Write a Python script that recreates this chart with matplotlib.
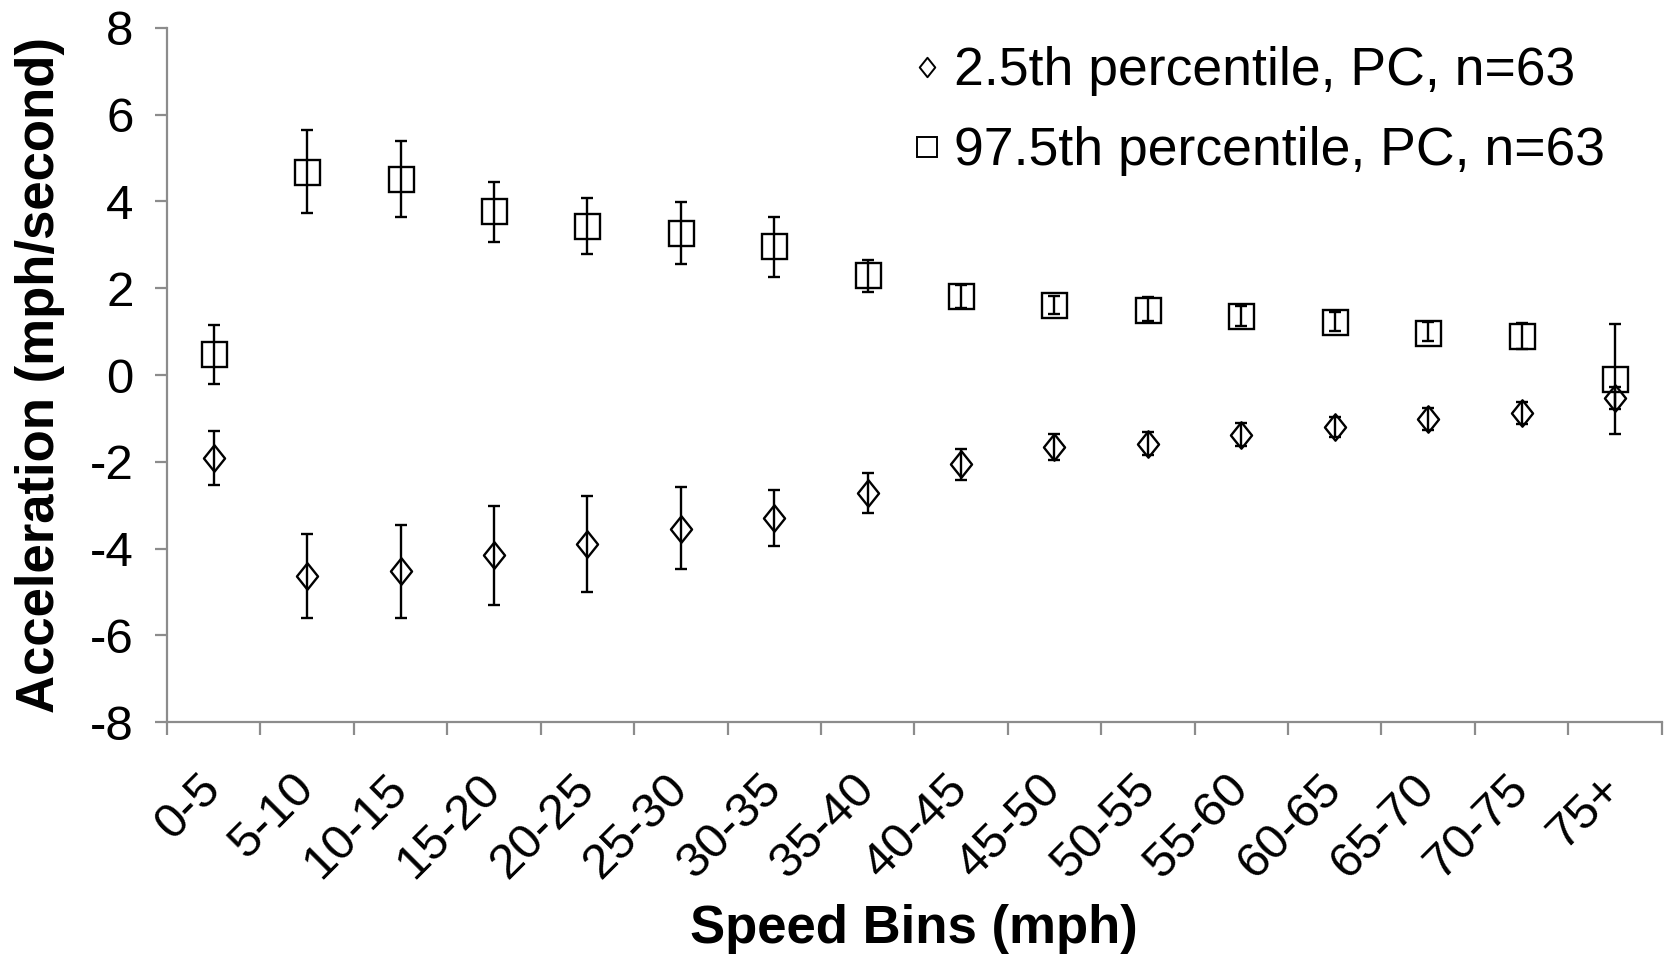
import numpy as np
import matplotlib.pyplot as plt
from matplotlib.path import Path
from matplotlib.lines import Line2D

plt.rcParams['font.family'] = ['Liberation Sans', 'DejaVu Sans']
plt.rcParams['axes.unicode_minus'] = False

bins = ['0-5', '5-10', '10-15', '15-20', '20-25', '25-30', '30-35', '35-40',
        '40-45', '45-50', '50-55', '55-60', '60-65', '65-70', '70-75', '75+']

# 2.5th percentile: mean and error bar ends
p025 = [-1.92, -4.63, -4.52, -4.16, -3.89, -3.54, -3.29, -2.72,
        -2.05, -1.65, -1.58, -1.38, -1.21, -1.01, -0.88, -0.53]
p025_hi = [-1.30, -3.67, -3.45, -3.01, -2.78, -2.59, -2.65, -2.26,
           -1.70, -1.37, -1.32, -1.11, -0.97, -0.76, -0.62, -0.27]
p025_lo = [-2.53, -5.61, -5.59, -5.31, -5.00, -4.47, -3.94, -3.19,
           -2.41, -1.96, -1.85, -1.64, -1.44, -1.27, -1.13, -0.79]

# 97.5th percentile
p975 = [0.48, 4.69, 4.52, 3.77, 3.44, 3.27, 2.97, 2.30,
        1.81, 1.61, 1.51, 1.36, 1.23, 0.97, 0.90, -0.09]
p975_hi = [1.16, 5.65, 5.40, 4.46, 4.07, 3.98, 3.64, 2.65,
           2.07, 1.83, 1.80, 1.59, 1.45, 1.23, 1.19, 1.18]
p975_lo = [-0.21, 3.73, 3.65, 3.07, 2.80, 2.56, 2.27, 1.92,
           1.55, 1.40, 1.24, 1.14, 1.01, 0.79, 0.61, -1.35]

x = np.arange(len(bins))

fig = plt.figure(figsize=(16.65, 9.58), dpi=100)
ax = fig.add_axes([0.1003, 0.2463, 0.8977, 0.7245])

# diamond a bit wider than matplotlib's 'd'
diamond = Path([(0, 1), (0.8, 0), (0, -1), (-0.8, 0), (0, 1)],
               [Path.MOVETO, Path.LINETO, Path.LINETO, Path.LINETO, Path.CLOSEPOLY])

y1 = np.array(p025)
ax.errorbar(x, y1, yerr=[y1 - np.array(p025_lo), np.array(p025_hi) - y1],
            fmt='none', ecolor='black', elinewidth=1.7, capsize=4.5, capthick=1.7)
ax.plot(x, y1, linestyle='none', marker=diamond, markersize=19,
        markerfacecolor='none', markeredgecolor='black', markeredgewidth=1.7)

y2 = np.array(p975)
ax.errorbar(x, y2, yerr=[y2 - np.array(p975_lo), np.array(p975_hi) - y2],
            fmt='none', ecolor='black', elinewidth=1.7, capsize=4.5, capthick=1.7)
ax.plot(x, y2, linestyle='none', marker='s', markersize=18,
        markerfacecolor='none', markeredgecolor='black', markeredgewidth=1.7)

ax.set_xlim(-0.5, len(bins) - 0.5)
ax.set_ylim(-8, 8)
ax.set_yticks(np.arange(-8, 9, 2))

# ticks at bin boundaries, labels at centres
ax.set_xticks(np.arange(-0.5, len(bins), 1))
ax.set_xticklabels([])
ax.set_xticks(x, minor=True)
ax.set_xticklabels(bins, minor=True, rotation=45, ha='right', va='center',
                   rotation_mode='anchor', fontsize=35.5)
ax.tick_params(axis='x', which='minor', length=0, pad=43)
ax.tick_params(axis='x', which='major', length=9, width=1.6, color='#8c8c8c')
ax.tick_params(axis='y', length=9, width=1.6, color='#8c8c8c', labelsize=35.5, pad=15)

for s in ['top', 'right']:
    ax.spines[s].set_visible(False)
for s in ['left', 'bottom']:
    ax.spines[s].set_color('#8c8c8c')
    ax.spines[s].set_linewidth(1.6)

ax.set_xlabel('Speed Bins (mph)', fontsize=38, fontweight='bold', va='center')
ax.xaxis.set_label_coords(0.5, -0.298)
ax.set_ylabel('Acceleration (mph/second)', fontsize=38, fontweight='bold', va='center')
ax.yaxis.set_label_coords(-0.085, 0.5)

handles = [
    Line2D([], [], linestyle='none', marker=diamond, markersize=14,
           markerfacecolor='none', markeredgecolor='black', markeredgewidth=1.4),
    Line2D([], [], linestyle='none', marker='s', markersize=15,
           markerfacecolor='none', markeredgecolor='black', markeredgewidth=1.4),
]
labels = ['2.5th percentile, PC, n=63', '97.5th percentile, PC, n=63']
ax.legend(handles, labels, loc='upper left', bbox_to_anchor=(0.531, 0.974),
          bbox_transform=fig.transFigure, frameon=False, fontsize=38.5,
          handletextpad=0.1, labelspacing=0.56, handlelength=0.8, borderaxespad=0.0)

fig.savefig('out.png', dpi=100)
